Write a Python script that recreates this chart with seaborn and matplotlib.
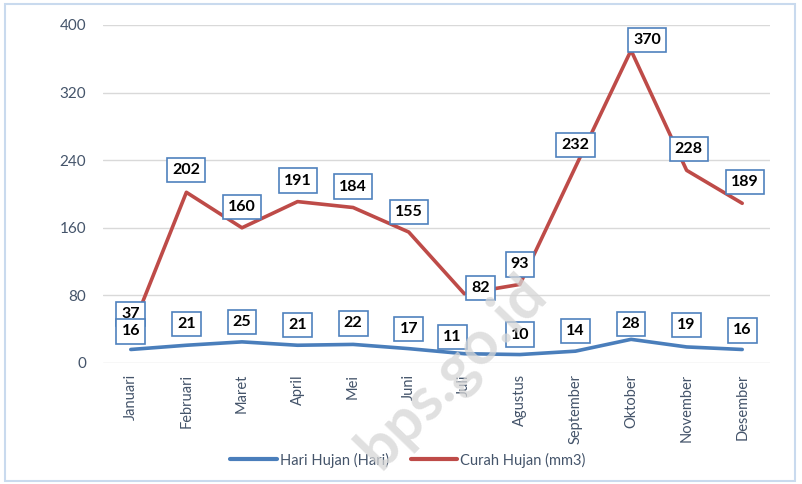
import matplotlib
matplotlib.use("Agg")
import matplotlib.pyplot as plt
import seaborn as sns
import pandas as pd
from matplotlib.patches import Rectangle
from matplotlib.lines import Line2D

months = ["Januari", "Februari", "Maret", "April", "Mei", "Juni", "Juli",
          "Agustus", "September", "Oktober", "November", "Desember"]
hari_hujan = [16, 21, 25, 21, 22, 17, 11, 10, 14, 28, 19, 16]
curah_hujan = [37, 202, 160, 191, 184, 155, 82, 93, 232, 370, 228, 189]
y_ticks = [0, 80, 160, 240, 320, 400]
series_names = ["Hari Hujan (Hari)", "Curah Hujan (mm3)"]

sns.set_theme(style="white")
plt.rcParams["font.family"] = ["Lato", "DejaVu Sans"]

df = pd.DataFrame({
    "bulan": list(range(len(months))) * 2,
    "nilai": hari_hujan + curah_hujan,
    "seri": [series_names[0]] * len(months) + [series_names[1]] * len(months),
})

fig = plt.figure(figsize=(8.02, 4.84), dpi=100)
ax = fig.add_axes([103 / 802, 1 - 363 / 484, (770 - 103) / 802, (363 - 25) / 484])

blue = "#4A7EBB"
red = "#BE4B48"
sns.lineplot(data=df, x="bulan", y="nilai", hue="seri",
             palette={series_names[0]: blue, series_names[1]: red},
             linewidth=2.6, ax=ax, legend=False)
for ln in ax.lines:
    ln.set_solid_joinstyle("round")
    ln.set_solid_capstyle("round")

ax.set_xlim(-0.5, len(months) - 0.5)
ax.set_ylim(0, 400)
ax.set_yticks(y_ticks)
ax.set_yticklabels([str(v) for v in y_ticks], fontsize=11, color="#44546A")
ax.set_xticks(range(len(months)))
ax.set_xticklabels(months, rotation=90, fontsize=10.5, color="#44546A")
ax.tick_params(axis="both", length=0)
ax.tick_params(axis="y", pad=12)
ax.tick_params(axis="x", pad=8)
ax.set_xlabel("")
ax.set_ylabel("")
ax.grid(axis="y", color="#D9D9D9", linewidth=1)
ax.set_axisbelow(True)
for s in ax.spines.values():
    s.set_visible(False)

box = dict(boxstyle="square,pad=0.32", facecolor="white", edgecolor="#4F81BD", linewidth=1.2)

# label offsets in pixels (dx, dy)
hari_off = [(0, 18), (0, 21), (0, 20), (0, 20), (0, 21), (0, 20), (-12, 17),
            (0, 20), (0, 20), (0, 15), (0, 22), (0, 19)]
curah_off = [(0, 18), (0, 22), (0, 21), (0, 21), (0, 21), (0, 20), (16, 6),
             (0, 20), (0, 22), (16, 10), (2, 21), (3, 21)]

k = 72 / 100
for i, v in enumerate(curah_hujan):
    dx, dy = curah_off[i]
    ax.annotate(str(v), (i, v), xytext=(dx * k, dy * k), textcoords="offset points",
                ha="center", va="center", fontsize=11.5, fontweight="bold", color="black",
                bbox=box, zorder=5)
for i, v in enumerate(hari_hujan):
    dx, dy = hari_off[i]
    ax.annotate(str(v), (i, v), xytext=(dx * k, dy * k), textcoords="offset points",
                ha="center", va="center", fontsize=11.5, fontweight="bold", color="black",
                bbox=box, zorder=6)

handles = [Line2D([], [], color=blue, linewidth=3), Line2D([], [], color=red, linewidth=3)]
fig.legend(handles, series_names, loc="center", bbox_to_anchor=(408 / 802, 1 - 460 / 484),
           ncol=2, frameon=False, fontsize=10.5, handlelength=3.2, handletextpad=0.2,
           columnspacing=1.5, labelcolor="#44546A")

# watermark
fig.text(452 / 802, 1 - 372 / 484, "bps.go.id", rotation=46, ha="center", va="center",
         fontsize=44, fontweight="bold", color="#D6D6D6", alpha=0.75, zorder=10)

# outer frame
fig.patches.append(Rectangle((5 / 802, 1 - 481 / 484), 790 / 802, 477 / 484,
                             transform=fig.transFigure, fill=False,
                             edgecolor="#C9DAEE", linewidth=1.5))

fig.savefig("out.png", dpi=100)
